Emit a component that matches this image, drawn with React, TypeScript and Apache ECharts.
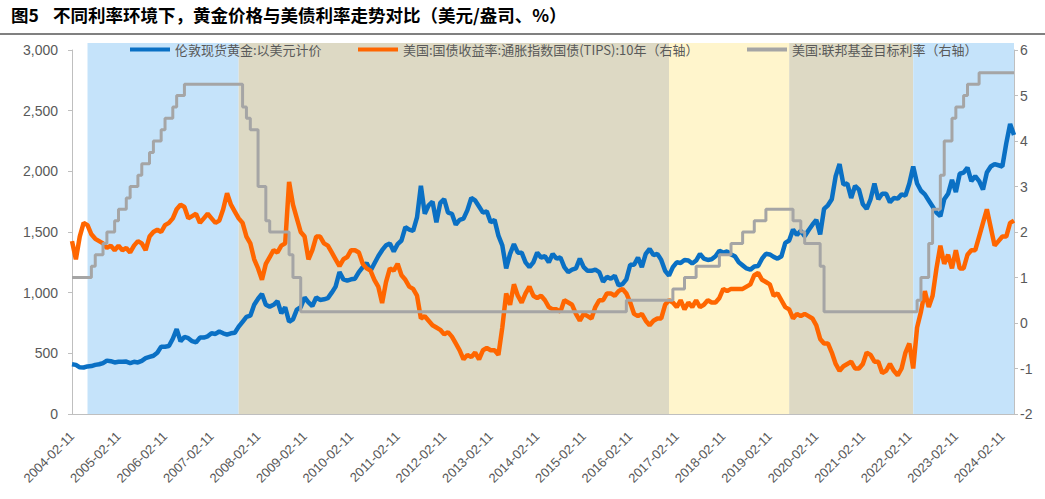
import React, { useEffect, useRef } from 'react';
import * as echarts from 'echarts';

// ---- categories: monthly, 2004-02-11 .. 2024-05-11 ----
const START_YEAR = 2004;
const START_MONTH = 2;
const MONTH_COUNT = 244;
const categories: string[] = [];
for (let i = 0; i < MONTH_COUNT; i++) {
  const m = START_MONTH - 1 + i;
  const y = START_YEAR + Math.floor(m / 12);
  const mm = (m % 12) + 1;
  categories.push(`${y}-${String(mm).padStart(2, '0')}-11`);
}

const SERIES_GOLD = '伦敦现货黄金:以美元计价';
const SERIES_TIPS = '美国:国债收益率:通胀指数国债(TIPS):10年（右轴）';
const SERIES_FED = '美国:联邦基金目标利率（右轴）';

// ---- gold price (USD/oz), monthly ----
const gold2004 = [410, 405, 385, 383, 392, 395, 405, 410, 420, 440, 435];
const gold2005 = [425, 430, 430, 432, 420, 430, 425, 438, 460, 470, 480, 505];
const gold2006 = [555, 555, 560, 620, 700, 600, 635, 625, 600, 590, 630, 630];
const gold2007 = [640, 665, 660, 680, 665, 655, 665, 670, 720, 760, 800, 810];
const gold2008 = [900, 950, 990, 900, 885, 900, 930, 830, 880, 760, 780, 860];
const gold2009 = [880, 960, 920, 890, 960, 940, 945, 955, 1000, 1050, 1170, 1110];
const gold2010 = [1100, 1110, 1115, 1170, 1210, 1245, 1180, 1240, 1300, 1350, 1390, 1405];
const gold2011 = [1340, 1400, 1430, 1540, 1520, 1510, 1620, 1880, 1650, 1720, 1750, 1580];
const gold2012 = [1740, 1770, 1660, 1650, 1560, 1600, 1610, 1680, 1780, 1760, 1710, 1660];
const gold2013 = [1670, 1580, 1600, 1470, 1390, 1200, 1320, 1400, 1330, 1330, 1250, 1210];
const gold2014 = [1250, 1330, 1290, 1300, 1250, 1320, 1280, 1290, 1210, 1170, 1190, 1200];
const gold2015 = [1280, 1210, 1180, 1180, 1190, 1170, 1090, 1130, 1115, 1140, 1060, 1070];
const gold2016 = [1110, 1230, 1230, 1290, 1210, 1320, 1360, 1310, 1320, 1270, 1180, 1140];
const gold2017 = [1210, 1250, 1245, 1270, 1265, 1240, 1265, 1320, 1280, 1270, 1275, 1300];
const gold2018 = [1345, 1330, 1340, 1315, 1300, 1250, 1225, 1200, 1190, 1215, 1220, 1280];
const gold2019 = [1320, 1315, 1295, 1280, 1300, 1410, 1430, 1520, 1475, 1510, 1465, 1515];
const gold2020 = [1560, 1600, 1480, 1690, 1720, 1770, 1960, 2060, 1890, 1900, 1780, 1880];
const gold2021 = [1850, 1730, 1690, 1770, 1900, 1770, 1815, 1815, 1745, 1780, 1775, 1810];
const gold2022 = [1800, 1900, 2040, 1900, 1840, 1810, 1760, 1710, 1660, 1630, 1770, 1815];
const gold2023 = [1930, 1830, 1980, 1990, 2030, 1920, 1960, 1920, 1850, 1990, 2040, 2060];
const gold2024 = [2050, 2040, 2230, 2390, 2300];

// ---- 10Y TIPS yield (%), monthly ----
const tips2004 = [1.8, 1.4, 1.9, 2.2, 2.15, 1.95, 1.85, 1.8, 1.75, 1.65, 1.7];
const tips2005 = [1.6, 1.7, 1.6, 1.65, 1.55, 1.7, 1.8, 1.75, 1.6, 1.9, 2.0, 2.05];
const tips2006 = [2.0, 2.15, 2.2, 2.3, 2.5, 2.6, 2.55, 2.3, 2.35, 2.4, 2.2, 2.3];
const tips2007 = [2.4, 2.3, 2.2, 2.25, 2.5, 2.85, 2.6, 2.45, 2.3, 2.2, 1.9, 1.75];
const tips2008 = [1.4, 1.2, 0.95, 1.3, 1.45, 1.6, 1.55, 1.7, 1.75, 3.1, 2.6, 2.3];
const tips2009 = [2.0, 1.9, 1.4, 1.6, 1.9, 1.9, 1.75, 1.7, 1.55, 1.4, 1.25, 1.4];
const tips2010 = [1.45, 1.6, 1.6, 1.55, 1.3, 1.2, 1.15, 0.95, 0.8, 0.44, 0.9, 1.2];
const tips2011 = [1.15, 1.3, 1.05, 0.95, 0.8, 0.75, 0.6, 0.1, 0.15, 0.05, -0.05, -0.1];
const tips2012 = [-0.15, -0.25, -0.2, -0.3, -0.45, -0.6, -0.8, -0.7, -0.75, -0.65, -0.8, -0.6];
const tips2013 = [-0.55, -0.6, -0.6, -0.7, -0.1, 0.65, 0.4, 0.85, 0.6, 0.45, 0.65, 0.8];
const tips2014 = [0.6, 0.55, 0.6, 0.5, 0.35, 0.3, 0.3, 0.25, 0.5, 0.45, 0.4, 0.2];
const tips2015 = [0.05, 0.2, 0.15, 0.1, 0.35, 0.5, 0.5, 0.65, 0.65, 0.6, 0.7, 0.75];
const tips2016 = [0.65, 0.45, 0.2, 0.15, 0.2, 0.05, -0.05, 0.05, 0.1, 0.1, 0.4, 0.5];
const tips2017 = [0.45, 0.35, 0.5, 0.3, 0.45, 0.35, 0.5, 0.35, 0.4, 0.5, 0.45, 0.45];
const tips2018 = [0.55, 0.75, 0.7, 0.75, 0.75, 0.75, 0.75, 0.8, 0.85, 1.05, 1.1, 0.95];
const tips2019 = [0.9, 0.85, 0.6, 0.65, 0.5, 0.35, 0.3, 0.1, 0.2, 0.15, 0.2, 0.15];
const tips2020 = [0.1, -0.05, -0.35, -0.45, -0.45, -0.65, -0.9, -1.05, -0.95, -0.9, -0.85, -1.0];
const tips2021 = [-1.0, -0.9, -0.65, -0.7, -0.85, -0.85, -1.1, -1.05, -0.9, -1.05, -1.15, -1.0];
const tips2022 = [-0.65, -0.45, -1.0, -0.1, 0.25, 0.7, 0.35, 0.6, 1.2, 1.7, 1.3, 1.5];
const tips2023 = [1.2, 1.6, 1.2, 1.2, 1.5, 1.6, 1.6, 1.9, 2.2, 2.5, 2.1, 1.7];
const tips2024 = [1.8, 1.9, 1.9, 2.2, 2.25];

// ---- Fed funds target rate upper bound (%), monthly ----
const fed2004 = [1, 1, 1, 1, 1, 1.25, 1.5, 1.5, 1.75, 2, 2];
const fed2005 = [2.25, 2.5, 2.5, 2.75, 3, 3, 3.25, 3.5, 3.5, 3.75, 4, 4];
const fed2006 = [4.25, 4.5, 4.5, 4.75, 5, 5, 5.25, 5.25, 5.25, 5.25, 5.25, 5.25];
const fed2007 = [5.25, 5.25, 5.25, 5.25, 5.25, 5.25, 5.25, 5.25, 5.25, 4.75, 4.5, 4.25];
const fed2008 = [4.25, 3, 3, 2.25, 2, 2, 2, 2, 2, 1.5, 1, 1];
const fed2009 = [0.25, 0.25, 0.25, 0.25, 0.25, 0.25, 0.25, 0.25, 0.25, 0.25, 0.25, 0.25];
const fed2010 = [0.25, 0.25, 0.25, 0.25, 0.25, 0.25, 0.25, 0.25, 0.25, 0.25, 0.25, 0.25];
const fed2011 = [0.25, 0.25, 0.25, 0.25, 0.25, 0.25, 0.25, 0.25, 0.25, 0.25, 0.25, 0.25];
const fed2012 = [0.25, 0.25, 0.25, 0.25, 0.25, 0.25, 0.25, 0.25, 0.25, 0.25, 0.25, 0.25];
const fed2013 = [0.25, 0.25, 0.25, 0.25, 0.25, 0.25, 0.25, 0.25, 0.25, 0.25, 0.25, 0.25];
const fed2014 = [0.25, 0.25, 0.25, 0.25, 0.25, 0.25, 0.25, 0.25, 0.25, 0.25, 0.25, 0.25];
const fed2015 = [0.25, 0.25, 0.25, 0.25, 0.25, 0.25, 0.25, 0.25, 0.25, 0.25, 0.25, 0.25];
const fed2016 = [0.5, 0.5, 0.5, 0.5, 0.5, 0.5, 0.5, 0.5, 0.5, 0.5, 0.5, 0.5];
const fed2017 = [0.75, 0.75, 0.75, 1, 1, 1, 1.25, 1.25, 1.25, 1.25, 1.25, 1.25];
const fed2018 = [1.5, 1.5, 1.5, 1.75, 1.75, 1.75, 2, 2, 2, 2.25, 2.25, 2.25];
const fed2019 = [2.5, 2.5, 2.5, 2.5, 2.5, 2.5, 2.5, 2.25, 2.25, 2, 1.75, 1.75];
const fed2020 = [1.75, 1.75, 1.25, 0.25, 0.25, 0.25, 0.25, 0.25, 0.25, 0.25, 0.25, 0.25];
const fed2021 = [0.25, 0.25, 0.25, 0.25, 0.25, 0.25, 0.25, 0.25, 0.25, 0.25, 0.25, 0.25];
const fed2022 = [0.25, 0.25, 0.25, 0.5, 1, 1, 1.75, 2.5, 2.5, 3.25, 4, 4];
const fed2023 = [4.5, 4.75, 4.75, 5, 5.25, 5.25, 5.25, 5.5, 5.5, 5.5, 5.5, 5.5];
const fed2024 = [5.5, 5.5, 5.5, 5.5, 5.5];

const goldData = [
  ...gold2004, ...gold2005, ...gold2006, ...gold2007, ...gold2008, ...gold2009, ...gold2010,
  ...gold2011, ...gold2012, ...gold2013, ...gold2014, ...gold2015, ...gold2016, ...gold2017,
  ...gold2018, ...gold2019, ...gold2020, ...gold2021, ...gold2022, ...gold2023, ...gold2024,
];
const tipsData = [
  ...tips2004, ...tips2005, ...tips2006, ...tips2007, ...tips2008, ...tips2009, ...tips2010,
  ...tips2011, ...tips2012, ...tips2013, ...tips2014, ...tips2015, ...tips2016, ...tips2017,
  ...tips2018, ...tips2019, ...tips2020, ...tips2021, ...tips2022, ...tips2023, ...tips2024,
];
const fedData = [
  ...fed2004, ...fed2005, ...fed2006, ...fed2007, ...fed2008, ...fed2009, ...fed2010,
  ...fed2011, ...fed2012, ...fed2013, ...fed2014, ...fed2015, ...fed2016, ...fed2017,
  ...fed2018, ...fed2019, ...fed2020, ...fed2021, ...fed2022, ...fed2023, ...fed2024,
];

// ---- shaded regimes ----
const bandStarts = ['2004-06-11', '2007-09-11', '2016-12-11', '2019-07-11', '2022-03-11'];
const bandEnds = ['2007-09-11', '2016-12-11', '2019-07-11', '2022-03-11', '2024-05-11'];
const BAND_COLORS = ['#C5E3FA', '#DDD9C4', '#FFF5CC', '#DDD9C4', '#C5E3FA'];

const leftTicks = { min: 0, max: 3000, interval: 500 };
const rightTicks = { min: -2, max: 6, interval: 1 };

const AXIS_GRAY = '#BFBFBF';
const LABEL_GRAY = '#595959';

export default function App() {
  const ref = useRef<HTMLDivElement>(null);
  useEffect(() => {
    if (!ref.current) return;
    const chart = echarts.init(ref.current, undefined, { renderer: 'svg' });
    const legendBase = {
      top: 38,
      icon: 'rect',
      itemWidth: 40,
      itemHeight: 4,
      itemGap: 0,
      selectedMode: false,
      textStyle: { color: LABEL_GRAY, fontSize: 13, fontFamily: '"Noto Sans CJK SC"' },
    };
    chart.setOption({
      animation: false,
      backgroundColor: '#ffffff',
      grid: [
        { left: 72, right: 31, top: 43, bottom: 85 },
        { left: 72, right: 31, top: 50, bottom: 85 },
      ],
      legend: [
        { ...legendBase, left: 125, data: [SERIES_GOLD] },
        { ...legendBase, left: 353, data: [SERIES_TIPS] },
        { ...legendBase, left: 742, data: [SERIES_FED] },
      ],
      xAxis: [
        { type: 'category', gridIndex: 0, data: categories, boundaryGap: false, show: false },
        {
          type: 'category',
          gridIndex: 1,
          data: categories,
          boundaryGap: false,
          axisLine: { lineStyle: { color: AXIS_GRAY, width: 1 } },
          axisTick: { inside: true, interval: 11, length: 4, lineStyle: { color: AXIS_GRAY } },
          axisLabel: {
            interval: 11,
            rotate: 45,
            margin: 20,
            color: LABEL_GRAY,
            fontSize: 13,
            fontFamily: '"Liberation Sans", Arial',
          },
          splitLine: { show: false },
        },
      ],
      yAxis: [
        { type: 'value', gridIndex: 0, min: 0, max: 1, show: false },
        {
          type: 'value',
          gridIndex: 1,
          position: 'left',
          min: leftTicks.min,
          max: leftTicks.max,
          interval: leftTicks.interval,
          axisLine: { show: true, lineStyle: { color: AXIS_GRAY } },
          axisTick: { show: true, length: 4, lineStyle: { color: AXIS_GRAY } },
          axisLabel: {
            margin: 14,
            color: LABEL_GRAY,
            fontSize: 14,
            fontFamily: '"Liberation Sans", Arial',
            formatter: (v: number) => v.toLocaleString('en-US'),
          },
          splitLine: { show: false },
        },
        {
          type: 'value',
          gridIndex: 1,
          position: 'right',
          min: rightTicks.min,
          max: rightTicks.max,
          interval: rightTicks.interval,
          axisLine: { show: true, lineStyle: { color: AXIS_GRAY } },
          axisTick: { show: true, length: 4, lineStyle: { color: AXIS_GRAY } },
          axisLabel: {
            margin: 6,
            color: LABEL_GRAY,
            fontSize: 14,
            fontFamily: '"Liberation Sans", Arial',
          },
          splitLine: { show: false },
        },
      ],
      graphic: [
        {
          type: 'text',
          left: 11,
          top: 6,
          style: { text: '图5', font: 'bold 17.5px "Noto Sans CJK SC"', fill: '#000000' },
        },
        {
          type: 'text',
          left: 53,
          top: 6,
          style: {
            text: '不同利率环境下，黄金价格与美债利率走势对比（美元/盎司、%）',
            font: 'bold 17.5px "Noto Sans CJK SC"',
            fill: '#000000',
          },
        },
        {
          type: 'line',
          shape: { x1: 0, y1: 34, x2: 1045, y2: 34 },
          style: { stroke: '#808080', lineWidth: 2 },
        },
      ],
      series: [
        {
          type: 'line',
          xAxisIndex: 0,
          yAxisIndex: 0,
          data: [],
          silent: true,
          z: 0,
          markArea: {
            silent: true,
            data: bandStarts.map((s, i) => [
              { xAxis: s, itemStyle: { color: BAND_COLORS[i], opacity: 1 } },
              { xAxis: bandEnds[i] },
            ]),
          },
        },
        {
          name: SERIES_GOLD,
          type: 'line',
          xAxisIndex: 1,
          yAxisIndex: 1,
          data: goldData,
          showSymbol: false,
          z: 3,
          lineStyle: { width: 4.5, color: '#0A70C4' },
          itemStyle: { color: '#0A70C4' },
        },
        {
          name: SERIES_TIPS,
          type: 'line',
          xAxisIndex: 1,
          yAxisIndex: 2,
          data: tipsData,
          showSymbol: false,
          z: 4,
          lineStyle: { width: 4.5, color: '#FF6600' },
          itemStyle: { color: '#FF6600' },
        },
        {
          name: SERIES_FED,
          type: 'line',
          xAxisIndex: 1,
          yAxisIndex: 2,
          data: fedData,
          step: 'end',
          showSymbol: false,
          z: 5,
          lineStyle: { width: 3, color: '#A5A5A5' },
          itemStyle: { color: '#A5A5A5' },
        },
      ],
    });
    return () => chart.dispose();
  }, []);
  return (
    <div
      ref={ref}
      style={{ position: 'absolute', left: 0, top: 0, width: 1045, height: 499 }}
    />
  );
}
